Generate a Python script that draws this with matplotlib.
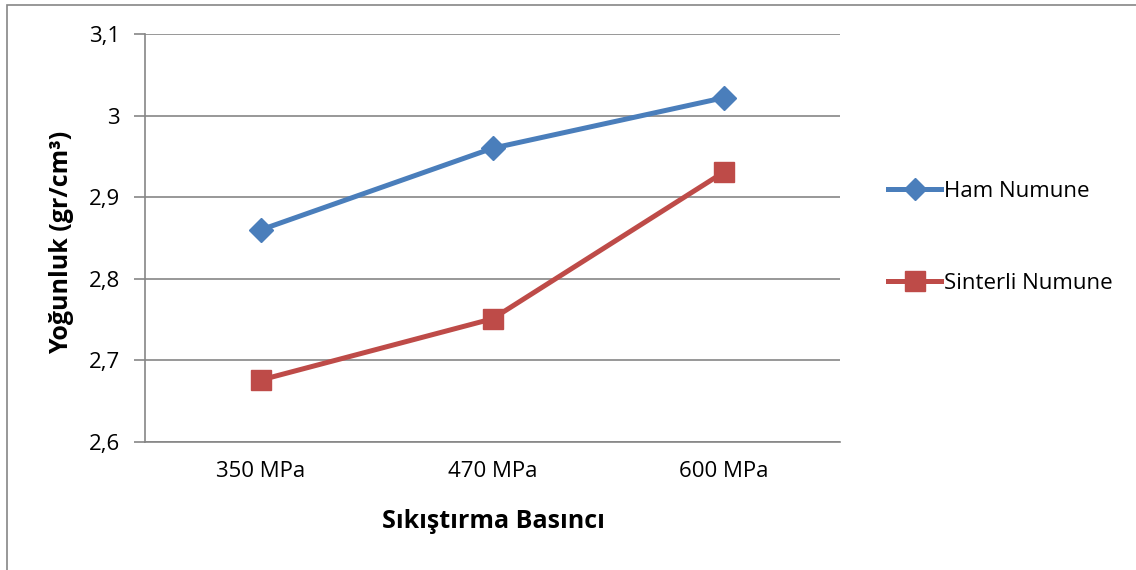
import matplotlib
matplotlib.use("Agg")
import matplotlib.pyplot as plt
from matplotlib.patches import Rectangle
from matplotlib.lines import Line2D

categories = ["350 MPa", "470 MPa", "600 MPa"]
ham = [2.86, 2.96, 3.022]
sinterli = [2.676, 2.751, 2.931]
yticks = [2.6, 2.7, 2.8, 2.9, 3.0, 3.1]
ytick_labels = ["2,6", "2,7", "2,8", "2,9", "3", "3,1"]

plt.rcParams['font.family'] = ['Open Sans', 'DejaVu Sans']

W, H = 1136, 570
fig = plt.figure(figsize=(W/100, H/100), dpi=100)
fig.patch.set_facecolor("white")

# outer chart border (top and left visible)
fig.add_artist(Rectangle((6.5/W, -0.05), 1.2, (H-4.5)/H + 0.05, transform=fig.transFigure,
                         fill=False, edgecolor="#868686", linewidth=1.2))

left, right, top, bottom = 145, 840, 34, 442
ax = fig.add_axes([left/W, 1-bottom/H, (right-left)/W, (bottom-top)/H])
x = list(range(len(categories)))
blue = "#4A7EBB"
red = "#BE4B48"
ax.plot(x, ham, color=blue, lw=3.6, marker="D", markersize=12, markeredgecolor=blue,
        markerfacecolor=blue, solid_capstyle="round", zorder=3)
ax.plot(x, sinterli, color=red, lw=3.6, marker="s", markersize=14, markeredgecolor=red,
        markerfacecolor=red, solid_capstyle="round", zorder=3)

ax.set_xlim(-0.5, 2.5)
ax.set_ylim(2.6, 3.1)
ax.set_yticks(yticks)
ax.set_yticklabels(ytick_labels, fontsize=16)
ax.set_xticks(x)
ax.set_xticklabels(categories, fontsize=16)
ax.tick_params(axis="x", length=0, pad=14)
ax.tick_params(axis="y", length=8, width=1.2, color="#868686", pad=10)
ax.grid(axis="y", color="#868686", lw=1.2)
ax.set_axisbelow(True)
for s in ["top", "right"]:
    ax.spines[s].set_visible(False)
for s in ["left", "bottom"]:
    ax.spines[s].set_color("#868686")
    ax.spines[s].set_linewidth(1.2)

fig.text(493/W, 1-522/H, "Sıkıştırma Basıncı", ha="center", va="center", fontsize=18, fontweight="bold")
fig.text(62/W, 1-242/H, "Yoğunluk (gr/cm³)", ha="center", va="center", rotation=90, fontsize=18, fontweight="bold")

handles = [Line2D([], [], color=blue, lw=3.6, marker="D", markersize=11),
           Line2D([], [], color=red, lw=3.6, marker="s", markersize=14)]
leg = fig.legend(handles, ["Ham Numune", "Sinterli Numune"], loc="upper left",
                 bbox_to_anchor=(877/W, 1-170/H), frameon=False, fontsize=16,
                 handlelength=2.4, handletextpad=0.1, labelspacing=3.2, borderpad=0)

fig.savefig("out.png", dpi=100, facecolor="white")
